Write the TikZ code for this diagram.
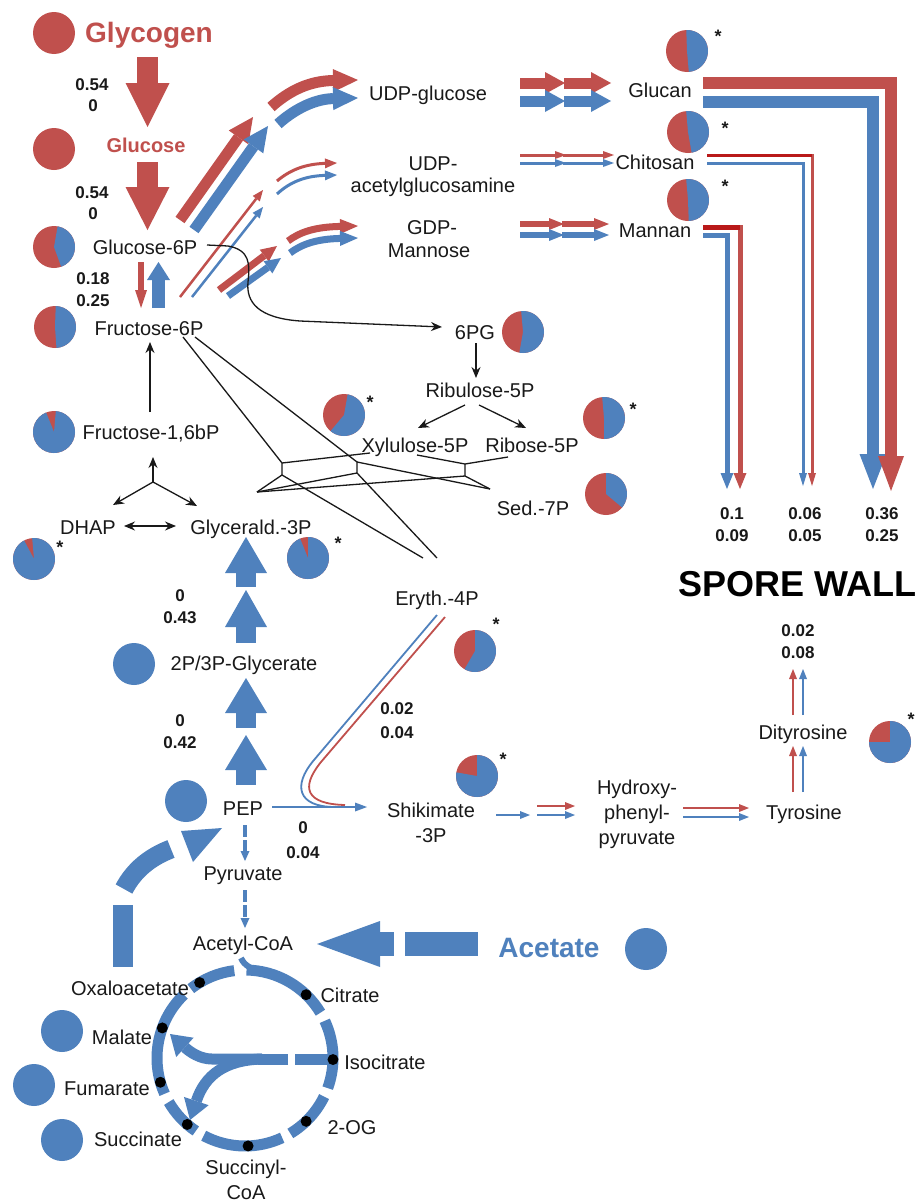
\documentclass[tikz,border=0pt]{standalone}
\usepackage{fontspec}
\setmainfont{Liberation Sans}
\usetikzlibrary{arrows.meta}
\definecolor{cred}{RGB}{192,80,77}
\definecolor{cblue}{RGB}{79,129,189}
\definecolor{cdred}{RGB}{185,25,25}
\definecolor{ctext}{RGB}{25,25,25}
\newcommand\mypie[5]{%
  \coordinate (#1) at (#2,#3);
  \fill[cred] (#2,#3) circle[radius=21pt];
  \fill[cblue] (#2,#3) -- ++(#4:21pt) arc[start angle=#4, end angle=#5, radius=21pt] -- cycle;}
\newcommand\mydisc[4]{\coordinate (#1) at (#3,#4); \fill[#2] (#3,#4) circle[radius=21pt];}
\begin{document}
\begin{tikzpicture}[x=1pt,y=-1pt,
  lab/.style={anchor=base, yshift=-7pt, font=\fontsize{20}{22}\selectfont, text=ctext, inner sep=0pt},
  num/.style={anchor=base, yshift=-6pt, font=\fontsize{17}{20}\selectfont\bfseries, text=ctext, inner sep=0pt},
  big/.style={anchor=base, yshift=-10pt, font=\fontsize{28}{30}\selectfont\bfseries, inner sep=0pt},
  ast/.style={anchor=base, yshift=-10.5pt, font=\fontsize{18}{18}\selectfont\bfseries, text=ctext, inner sep=0pt},
  tri/.style 2 args={-{Triangle[length=#1,width=#2,line width=0pt]}},
  blk/.style={draw=ctext, line width=1.3pt},
  bar/.style={-{Stealth[length=11pt,width=9pt]}},
  tk/.style={draw=ctext, line width=1.3pt},
  ]
\fill[white] (0,0) rectangle (921,1202);
\useasboundingbox (0,0) rectangle (921,1202);

% ---------- top left: glycogen / glucose ----------
\mydisc{cglycogen}{cred}{54}{33}
\node[big, text=cred] (glycogen) at (149,32) {Glycogen};
\draw[cred, line width=21pt, tri={44pt}{44pt}] (147.5,57) -- (147.5,127);
\node[num] (n1a) at (92,84) {0.54};
\node[num] (n1b) at (93,105) {0};
\mydisc{cglucose}{cred}{54}{149}
\node[anchor=base, yshift=-7pt, font=\fontsize{20}{22}\selectfont\bfseries, text=cred, inner sep=0pt] (glucose) at (146,145) {Glucose};
\draw[cred, line width=21pt, tri={43pt}{44pt}] (147.5,162) -- (147.5,230);
\node[num] (n2a) at (92,192) {0.54};
\node[num] (n2b) at (93,213) {0};
\mypie{pg6p}{54}{247}{-70}{80}
\node[lab] (g6p) at (145,247) {Glucose-6P};
\draw[cred, line width=6.5pt, tri={18pt}{12pt}] (141,262) -- (141,308);
\draw[cblue, line width=13pt, tri={18pt}{23pt}] (158.5,308) -- (158.5,262);
\node[num] (n3a) at (93,278) {0.18};
\node[num] (n3b) at (93,300) {0.25};
\mypie{pf6p}{55}{327}{-86}{88}
\node[lab] (f6p) at (149,328) {Fructose-6P};

% ---------- G6P to nucleotide sugars ----------
\draw[cred, line width=11pt, tri={25pt}{24pt}] (180,220) -- (253,117);
\draw[cblue, line width=11pt, tri={25pt}{24pt}] (194,230) -- (268,126);
\draw[cred, line width=11pt, tri={25pt}{23pt}] (271,107) .. controls (290,90) and (310,81) .. (358,80);
\draw[cblue, line width=11pt, tri={25pt}{23pt}] (278,124) .. controls (297,107) and (317,99) .. (358,98);
\draw[cred, line width=2.5pt, tri={11pt}{9pt}] (180,297) -- (263,190);
\draw[cblue, line width=2.5pt, tri={11pt}{9pt}] (192,297) -- (263,207);
\draw[cred, line width=3pt, tri={12pt}{10pt}] (277,181) .. controls (290,170) and (305,164) .. (337,163);
\draw[cblue, line width=3pt, tri={12pt}{10pt}] (277,194) .. controls (290,182) and (305,176) .. (337,175);
\draw[cred, line width=7pt, tri={16pt}{15pt}] (219,290) -- (277,246);
\draw[cblue, line width=7pt, tri={16pt}{15pt}] (228,296) -- (281,258);
\draw[cred, line width=7pt, tri={18pt}{15pt}] (288,241) .. controls (300,232) and (315,227) .. (358,226);
\draw[cblue, line width=7pt, tri={18pt}{15pt}] (290,253) .. controls (302,244) and (317,239) .. (358,238);

\node[lab] (udpg) at (428,93) {UDP-glucose};
\node[lab] (udpa1) at (433,163) {UDP-};
\node[lab] (udpa2) at (433,185) {acetylglucosamine};
\node[lab] (gdpm1) at (432,227) {GDP-};
\node[lab] (gdpm2) at (429,250) {Mannose};

% ---------- polymerisation double arrows ----------
\foreach \y/\c in {83/cred, 101/cblue}{
  \draw[\c, line width=11pt, tri={20pt}{22pt}] (520,\y) -- (565,\y);
  \draw[\c, line width=11pt, tri={20pt}{22pt}] (564,\y) -- (611,\y);}
\foreach \y/\c in {155/cred, 163/cblue}{
  \draw[\c, line width=3pt, tri={11pt}{8pt}] (520,\y) -- (566,\y);
  \draw[\c, line width=3pt, tri={11pt}{8pt}] (563,\y) -- (614,\y);}
\foreach \y/\c in {224/cred, 235/cblue}{
  \draw[\c, line width=6pt, tri={15pt}{12pt}] (520,\y) -- (564,\y);
  \draw[\c, line width=6pt, tri={15pt}{12pt}] (562,\y) -- (609,\y);}

\mypie{pglucan}{687}{51}{-85}{92}
\node[ast] (s1) at (718,32) {*};
\node[lab] (glucan) at (660,90) {Glucan};
\mypie{pchitosan}{688}{132}{-80}{95}
\node[ast] (s2) at (725,124) {*};
\node[lab] (chitosan) at (655,162) {Chitosan};
\mypie{pmannan}{688}{200}{-88}{95}
\node[ast] (s3) at (725,182) {*};
\node[lab] (mannan) at (655,230) {Mannan};

% ---------- to spore wall ----------
\draw[cblue, line width=12pt, tri={35pt}{27pt}] (703,102) -- (873,102) -- (873,489);
\draw[cred, line width=12pt, tri={35pt}{26pt}] (703,83) -- (891,83) -- (891,491);
\draw[cblue, line width=3pt, tri={13pt}{8pt}] (707,163) -- (803,163) -- (803,486);
\draw[cred, line width=3pt, tri={13pt}{8pt}] (707,155) -- (812,155) -- (812,486);
\draw[cdred, line width=3pt] (707,155) -- (812,155);
\draw[cblue, line width=5pt, tri={16pt}{13pt}] (703,235) -- (727,235) -- (727,489);
\draw[cred, line width=5pt, tri={16pt}{13pt}] (703,227) -- (740,227) -- (740,489);
\draw[cdred, line width=5pt] (703,227) -- (740,227);

\node[num] (w1a) at (732,513) {0.1};
\node[num] (w1b) at (732,535) {0.09};
\node[num] (w2a) at (805,513) {0.06};
\node[num] (w2b) at (805,535) {0.05};
\node[num] (w3a) at (882,513) {0.36};
\node[num] (w3b) at (882,535) {0.25};
\node[anchor=base, yshift=-13pt, font=\fontsize{36}{38}\selectfont\bfseries, text=black, inner sep=0pt] (spore) at (797,583) {SPORE WALL};

% ---------- pentose phosphate ----------
\draw[blk, bar] (207,245) -- (228,246) .. controls (250,250) and (250,264) .. (248,282) .. controls (246,302) and (258,318) .. (300,321) -- (442,327);
\node[lab] (pg6) at (475,332) {6PG};
\mypie{p6pg}{523}{332}{-100}{95}
\draw[blk, bar] (476,343) -- (476,378);
\node[lab] (ribu) at (480,390) {Ribulose-5P};
\draw[blk, bar] (465,405) -- (418,428);
\draw[blk, bar] (479,405) -- (526,428);
\node[lab] (xylu) at (415,445) {Xylulose-5P};
\node[lab] (ribo) at (532,445) {Ribose-5P};
\mypie{pxylu}{344}{415}{-130}{80}
\node[ast] (s4) at (370,398) {*};
\mypie{pribo}{604}{418}{-90}{95}
\node[ast] (s5) at (633,405) {*};
\mypie{psed}{606}{494}{-40}{90}
\node[lab] (sed) at (533,508) {Sed.-7P};

% transketolase / transaldolase network
\coordinate (gt) at (257,492);
\coordinate (st) at (490,489);
\coordinate (e1) at (423,558);
\coordinate (e2) at (437,558);
\draw[tk] (183,337) -- (282,463) -- (282,475) -- (gt);
\draw[tk] (282,463) -- (370,453);
\draw[tk] (282,475) -- (e1);
\draw[tk] (195,337) -- (357,462) -- (357,473) -- (gt);
\draw[tk] (357,462) -- (st);
\draw[tk] (357,473) -- (e2);
\draw[tk] (417,455) -- (465,464) -- (508,457);
\draw[tk] (465,464) -- (465,476) -- (st);
\draw[tk] (465,476) -- (gt);

% ---------- glycolysis / gluconeogenesis ----------
\mypie{pf16}{54}{432}{-248}{85}
\node[lab] (f16) at (151,432) {Fructose-1,6bP};
\draw[blk, bar] (150,412) -- (150,342);
\coordinate (tw) at (153,482);
\draw[blk, bar] (tw) -- (153,457);
\draw[blk, bar] (tw) -- (113,505);
\draw[blk, bar] (tw) -- (197,506);
\node[lab] (dhap) at (88,527) {DHAP};
\node[lab] (gap) at (251,527) {Glycerald.-3P};
\draw[blk, {Stealth[length=11pt,width=9pt]}-{Stealth[length=11pt,width=9pt]}] (124,526) -- (176,526);
\mypie{pdhap}{34}{559}{-242}{95}
\node[ast] (s6) at (60,543) {*};
\mypie{pgap}{308}{558}{-248}{90}
\node[ast] (s7) at (338,539) {*};

\draw[cblue, line width=20pt, tri={36pt}{42pt}] (246,587) -- (246,537);
\draw[cblue, line width=20pt, tri={37pt}{42pt}] (246,643) -- (246,590);
\node[num] (n4a) at (180,595) {0};
\node[num] (n4b) at (180,617) {0.43};
\mydisc{c23pg}{cblue}{134}{664}
\node[lab] (pg23) at (244,663) {2P/3P-Glycerate};
\draw[cblue, line width=20pt, tri={35pt}{42pt}] (246,728) -- (246,678);
\draw[cblue, line width=20pt, tri={35pt}{42pt}] (246,785) -- (246,735);
\node[num] (n5a) at (180,720) {0};
\node[num] (n5b) at (180,742) {0.42};

\mydisc{cpep}{cblue}{186}{801}
\node[lab] (pep) at (243,808) {PEP};
\node[lab] (pyr) at (243,873) {Pyruvate};
\node[lab] (acoa) at (243,943) {Acetyl-CoA};
\draw[cblue, line width=3.5pt, dash pattern=on 12pt off 3pt, tri={10pt}{9pt}] (245,825) -- (245,861);
\draw[cblue, line width=3.5pt, dash pattern=on 12pt off 3pt, tri={10pt}{9pt}] (245,890) -- (245,928);

% oxaloacetate -> PEP
\fill[cblue] (113,905) rectangle (133,967);
\draw[cblue, line width=19pt] (124,889) .. controls (134,870) and (150,857) .. (171,849);
\fill[cblue] (181,831) -- (222,828) -- (193,862) -- cycle;

% ---------- erythrose / shikimate / tyrosine ----------
\node[lab] (e4p) at (437,598) {Eryth.-4P};
\mypie{pe4p}{475}{651}{-120}{90}
\node[ast] (s8) at (496,620) {*};
\node[num] (n6a) at (397,708) {0.02};
\node[num] (n6b) at (397,732) {0.04};
\draw[cblue, line width=2pt, tri={12pt}{9pt}] (272,807) -- (367,807);
\draw[cblue, line width=1.8pt] (437,615) -- (314,760) .. controls (292,786) and (298,807) .. (335,807);
\draw[cred, line width=1.8pt] (445,617) -- (321,762) .. controls (300,788) and (306,804) .. (345,805);
\node[num] (n7a) at (303,827) {0};
\node[num] (n7b) at (303,852) {0.04};

\node[lab] (shik1) at (431,810) {Shikimate};
\node[lab] (shik2) at (431,835) {-3P};
\mypie{pshik}{477}{776}{-190}{90}
\node[ast] (s9) at (503,755) {*};
\draw[cblue, line width=2.5pt, tri={10pt}{8pt}] (496,815) -- (530,815);
\draw[cred, line width=2.5pt, tri={10pt}{8pt}] (537,806) -- (575,806);
\draw[cblue, line width=2.5pt, tri={10pt}{8pt}] (537,815) -- (575,815);
\node[lab] (hpp1) at (637,787) {Hydroxy-};
\node[lab] (hpp2) at (637,812) {phenyl-};
\node[lab] (hpp3) at (637,837) {pyruvate};
\draw[cred, line width=2.5pt, tri={10pt}{8pt}] (683,808) -- (749,808);
\draw[cblue, line width=2.5pt, tri={10pt}{8pt}] (683,817) -- (749,817);
\node[lab] (tyr) at (804,812) {Tyrosine};
\draw[cred, line width=2.5pt, tri={10pt}{8pt}] (793,792) -- (793,746);
\draw[cblue, line width=2.5pt, tri={10pt}{8pt}] (803,792) -- (803,746);
\node[lab] (dityr) at (803,732) {Dityrosine};
\draw[cred, line width=2.5pt, tri={10pt}{8pt}] (793,715) -- (793,669);
\draw[cblue, line width=2.5pt, tri={10pt}{8pt}] (803,715) -- (803,669);
\node[num] (n8a) at (798,630) {0.02};
\node[num] (n8b) at (798,652) {0.08};
\mypie{pdityr}{890}{742}{-180}{90}
\node[ast] (s10) at (911,715) {*};

% ---------- acetate ----------
\fill[cblue] (317,944) -- (380,921) -- (380,967) -- cycle;
\fill[cblue] (379,932) rectangle (394,956);
\fill[cblue] (405,932) rectangle (478,956);
\node[big, text=cblue] (acetate) at (549,947) {Acetate};
\mydisc{cacetate}{cblue}{646}{949}

% ---------- TCA / glyoxylate cycle ----------
\coordinate (tca) at (245,1058);
\foreach \a/\b in {97/128, 134/204, 210/236, 242/295, 301/334, 340/385, 391/449}{
  \draw[cblue, line width=11pt] (tca) ++(\a:88pt) arc[start angle=\a, end angle=\b, radius=88pt];}
\draw[cblue, line width=6pt] (241,958) .. controls (244,965) and (251,970) .. (266,972);
\draw[cblue, line width=11pt] (333,1059) -- (295,1059);
\draw[cblue, line width=11pt] (288,1059) -- (258,1059);
\draw[cblue, line width=11pt, tri={20pt}{26pt}] (262,1059) -- (212,1059) .. controls (200,1059) and (190,1052) .. (170,1034);
\draw[cblue, line width=11pt, tri={20pt}{26pt}] (262,1059) .. controls (225,1060) and (205,1075) .. (190,1120);
\foreach \a in {121,46,-1,-46,-88,-131,196,160}{
  \fill[black] (tca) ++(\a:88pt) circle[radius=5.5pt];}

\node[lab] (oaa) at (130,988) {Oxaloacetate};
\node[lab] (cit) at (350,995) {Citrate};
\node[lab] (mal) at (122,1037) {Malate};
\node[lab] (icit) at (385,1062) {Isocitrate};
\node[lab] (fum) at (107,1088) {Fumarate};
\node[lab] (og) at (352,1127) {2-OG};
\node[lab] (suc) at (138,1139) {Succinate};
\node[lab] (scoa1) at (246,1167) {Succinyl-};
\node[lab] (scoa2) at (246,1192) {CoA};
\mydisc{cmal}{cblue}{62}{1031}
\mydisc{cfum}{cblue}{34}{1085}
\mydisc{csuc}{cblue}{62}{1140}
\end{tikzpicture}
\end{document}
